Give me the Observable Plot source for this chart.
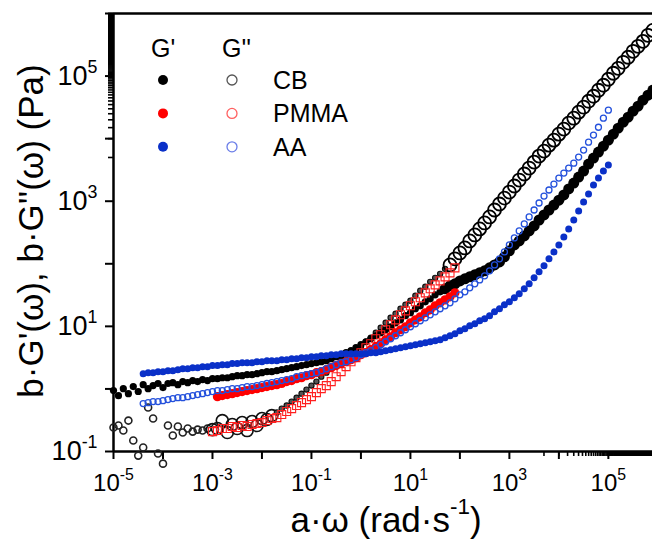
<!DOCTYPE html>
<html><head><meta charset="utf-8">
<script src="https://cdn.jsdelivr.net/npm/d3@7"></script>
<script src="https://cdn.jsdelivr.net/npm/@observablehq/plot@0.6"></script>
<style>
html,body{margin:0;padding:0;background:#fff;overflow:hidden;}
#wrap{position:relative;width:652px;height:545px;}
</style></head><body><div id="wrap"></div>
<script>
// shared angular-frequency grid (rad/s)
const omega = [
1e-5,1.26e-5,1.58e-5,2e-5,2.51e-5,3.16e-5,3.98e-5,5.01e-5,6.31e-5,7.94e-5,
1e-4,1.26e-4,1.58e-4,2e-4,2.51e-4,3.16e-4,3.98e-4,5.01e-4,6.31e-4,7.94e-4,
1e-3,1.26e-3,1.58e-3,2e-3,2.51e-3,3.16e-3,3.98e-3,5.01e-3,6.31e-3,7.94e-3,
0.01,0.0126,0.0158,0.02,0.0251,0.0316,0.0398,0.0501,0.0631,0.0794,
0.1,0.126,0.158,0.2,0.251,0.316,0.398,0.501,0.631,0.794,
1,1.26,1.58,2,2.51,3.16,3.98,5.01,6.31,7.94,
10,12.6,15.8,20,25.1,31.6,39.8,50.1,63.1,79.4,
100,126,158,200,251,316,398,501,631,794,
1000,1260,1580,2000,2510,3160,3980,5010,6310,7940,
1e4,12600,15800,20000,25100,31600,39800,50100,63100,79400,
1e5,126000,158000,200000,251000,316000,398000,501000,631000,794000
];

// CB, G' (Pa), from omega[0]
const cbStorage = [
0.94,0.78,1.01,0.84,1.09,0.91,1.17,1.01,1.13,1.22,
1.05,1.22,1.26,1.17,1.31,1.26,1.36,1.31,1.41,1.36,
1.46,1.46,1.51,1.51,1.57,1.63,1.63,1.69,1.69,1.75,
1.82,1.89,1.89,1.96,2.03,2.11,2.19,2.27,2.36,2.44,
2.54,2.62,2.72,2.82,3.04,3.27,3.52,3.79,4.08,4.56,
5.09,5.68,6.34,7.08,7.91,8.83,9.86,11.4,12.7,14.8,
16.5,19.1,21.3,24.7,27.5,31.9,35.6,39.8,44.5,47.8,
53.3,57.4,61.8,66.5,71.6,77.1,86.1,95.9,107,129,
161,200,232,279,335,402,501,603,724,869,
1040,1260,1570,1950,2430,3030,3920,4890,6090,7590,
9460,11800,14700,18300,22000,27500,33000,41100,49400,59400
];
// CB, G'' (Pa), from omega[0]
const cbLoss = [
0.242,0.260,0.216,0.312,0.150,0.086,0.116,0.504,0.336,0.093,
0.064,0.260,0.180,0.251,0.201,0.233,0.208,0.224,0.216,0.233,
0.224,0.233,0.312,0.201,0.270,0.233,0.290,0.216,0.301,0.260,
0.336,0.324,0.375,0.419,0.485,0.542,0.627,0.726,0.841,0.975,
1.13,1.31,1.57,1.82,2.11,2.44,2.83,3.16,3.66,4.24,
4.73,5.68,6.58,7.91,9.51,11.4,13.7,15.9,19.1,22.1,
25.6,30.8,37.0,42.9,51.4,59.6,69.0,83.0,95.9,120,
149,179,232,289,361,449,560,724,902,1120,
1400,1750,2180,2720,3390,4220,5260,6320,7870,9460,
11800,14200,17700,21200,26500,31800,39600,47600,59400,71300,
88900,111000,133000,166000,200000,249000,299000,359000,448000,537000
];
// PMMA, G' (Pa), from omega[21]
const pmmaStorage = [
0.753,0.782,0.811,0.841,0.873,0.906,0.940,0.975,1.01,1.05,
1.09,1.13,1.17,1.22,1.31,1.36,1.46,1.51,1.63,1.69,
1.82,1.89,2.03,2.19,2.36,2.54,2.72,2.93,3.16,3.52,
3.79,4.24,4.73,5.27,6.11,6.82,7.91,8.83,9.86,11.4,
12.7,14.2,16.5,18.4,21.3,23.8,26.5,29.6,34.3
];
// PMMA, G'' (Pa), from omega[20]
const pmmaLoss = [
0.208,0.216,0.233,0.233,0.251,0.242,0.260,0.251,0.270,0.280,
0.290,0.312,0.336,0.348,0.389,0.435,0.485,0.542,0.604,0.675,
0.753,0.873,1.01,1.13,1.31,1.57,1.89,2.27,2.72,3.16,
3.79,4.56,5.27,6.34,7.35,8.83,10.6,12.7,15.3,17.7,
21.3,24.7,28.6,34.3,39.8,46.0,53.3,61.8,71.6,86.1
];
// AA, G' (Pa), from omega[6]
const aaStorage = [
1.75,1.82,1.82,1.89,1.89,1.96,1.96,2.03,2.11,2.11,
2.19,2.19,2.27,2.27,2.36,2.36,2.44,2.44,2.54,2.54,
2.63,2.63,2.63,2.72,2.72,2.83,2.83,2.83,2.93,2.93,
3.04,3.04,3.16,3.16,3.27,3.27,3.40,3.40,3.52,3.52,
3.66,3.66,3.66,3.66,3.66,3.66,3.79,3.79,3.94,4.08,
4.24,4.40,4.56,4.73,4.91,5.09,5.27,5.47,5.68,5.89,
6.11,6.58,7.08,7.62,8.51,9.16,10.2,11.0,12.3,13.2,
14.8,17.1,19.1,22.1,24.7,28.6,33.1,39.8,47.8,59.6,
74.3,92.7,120,155,200,269,361,501,698,971,
1300,1810,2340,3030,3780
];
// AA, G'' (Pa), from omega[6]
const aaLoss = [
0.583,0.604,0.627,0.627,0.650,0.675,0.700,0.726,0.726,0.753,
0.782,0.811,0.841,0.873,0.906,0.940,0.940,0.975,1.01,1.01,
1.05,1.09,1.09,1.13,1.17,1.22,1.26,1.31,1.36,1.41,
1.46,1.57,1.63,1.69,1.75,1.82,1.96,2.11,2.27,2.44,
2.63,2.72,2.93,3.16,3.52,3.79,4.08,4.56,5.09,5.68,
6.34,7.08,7.91,8.83,9.86,11.0,12.3,13.7,15.3,17.1,
19.1,21.3,23.8,27.5,31.9,35.6,41.3,47.8,55.3,64.1,
77.1,95.9,120,155,200,259,335,433,560,724,
936,1210,1510,1880,2340,2820,3390,4060,5070,6560,
8790,11400,15200,21200,28500
];

const materials = ["CB", "PMMA", "AA"];
const xMajor = [1e-5,1e-4,1e-3,1e-2,1e-1,1,10,100,1e3,1e4,1e5];
const yMajor = [0.1,1,10,100,1e3,1e4,1e5,1e6];

const series = [
  {name: "CB", mod: "G'", start: 0, values: cbStorage},
  {name: "CB", mod: "G''", start: 0, values: cbLoss},
  {name: "PMMA", mod: "G'", start: 21, values: pmmaStorage},
  {name: "PMMA", mod: "G''", start: 20, values: pmmaLoss},
  {name: "AA", mod: "G'", start: 6, values: aaStorage},
  {name: "AA", mod: "G''", start: 6, values: aaLoss}
];
const rows = series.flatMap(s => s.values.map((G, j) => ({omega: omega[s.start + j], G, name: s.name, mod: s.mod})));
const is = (n, m) => d => d.name === n && d.mod === m;

const expFmt = d => {
  const e = Math.round(Math.log10(d));
  return Math.abs(e) % 2 === 1 ? "10^" + e : "";
};

const FONT = '"Liberation Sans", Arial, sans-serif';

const chart = Plot.plot({
  width: 652, height: 545,
  marginLeft: 113, marginRight: 0, marginTop: 13, marginBottom: 94,
  style: {fontFamily: FONT, fontSize: "24px", color: "#000", background: "#fff", overflow: "visible"},
  x: {type: "log", domain: [1e-5, 7.8e5]},
  y: {type: "log", domain: [0.1, 1e6]},
  marks: [
    Plot.axisX({ticks: 200, tickSize: 5, strokeWidth: 1.6, tickFormat: () => "", label: null}),
    Plot.axisX({ticks: xMajor, tickSize: 8, strokeWidth: 2, tickPadding: 14, tickFormat: expFmt, fontSize: 24, label: null}),
    Plot.axisY({ticks: 200, tickSize: 5, strokeWidth: 1.6, tickFormat: () => "", label: null}),
    Plot.axisY({ticks: yMajor, tickSize: 8, strokeWidth: 2, tickPadding: 8, tickFormat: expFmt, fontSize: 27, label: null}),
    Plot.ruleX([1e-5], {strokeWidth: 2.5}),
    Plot.ruleY([0.1, 1e6], {strokeWidth: 2.5}),
    // CB G''
    Plot.dot(rows, {filter: d => is("CB","G''")(d) && d.omega < 1e-3, x: "omega", y: "G", r: 3.5, stroke: "#222", strokeWidth: 1.6, fill: "none"}),
    Plot.dot(rows, {filter: d => is("CB","G''")(d) && d.omega >= 1e-3 && d.omega < 0.02, x: "omega", y: "G", r: 6, stroke: "#111", strokeWidth: 1.6, fill: "none"}),
    Plot.dot(rows, {filter: d => is("CB","G''")(d) && d.omega >= 0.02 && d.omega < 60, x: "omega", y: "G", r: 2.6, stroke: "#111", strokeWidth: 1.2, fill: "#555"}),
    Plot.dot(rows, {filter: d => is("CB","G''")(d) && d.omega >= 60, x: "omega", y: "G", r: 6.5, stroke: "#000", strokeWidth: 1.8, fill: "none"}),
    // CB G'
    Plot.dot(rows, {filter: d => is("CB","G'")(d) && d.omega < 50, x: "omega", y: "G", r: 3.6, fill: "#000"}),
    Plot.dot(rows, {filter: d => is("CB","G'")(d) && d.omega >= 50, x: "omega", y: "G", r: 5.5, fill: "#000"}),
    // PMMA
    Plot.dot(rows, {filter: is("PMMA","G''"), x: "omega", y: "G", symbol: "square", r: 4.5, stroke: "#ff2020", strokeWidth: 1.1, fill: "none"}),
    Plot.dot(rows, {filter: is("PMMA","G'"), x: "omega", y: "G", r: 4.6, fill: "#ff0000"}),
    // AA
    Plot.dot(rows, {filter: is("AA","G''"), x: "omega", y: "G", r: 3, stroke: "#2350dc", strokeWidth: 1.3, fill: "none"}),
    Plot.dot(rows, {filter: is("AA","G'"), x: "omega", y: "G", r: 3.5, fill: "#0a30c8"})
  ]
});

document.getElementById("wrap").appendChild(chart);
const svg = d3.select(chart);

// superscript exponents in tick labels
const relabel = (sel, size) => sel.each(function () {
  const t = this.textContent;
  const s = d3.select(this).attr("font-size", size).attr("font-family", FONT);
  if (!t.includes("^")) return;
  const [b, e] = t.split("^");
  s.text(null);
  s.append("tspan").text(b);
  s.append("tspan").attr("font-size", "0.66em").attr("dy", "-0.68em").text(e);
});
relabel(svg.selectAll('g[aria-label="x-axis tick label"] text'), 24);
relabel(svg.selectAll('g[aria-label="y-axis tick label"] text'), 27);

// axis titles
const xt = svg.append("text").attr("x", 386).attr("y", 532).attr("text-anchor", "middle")
  .attr("font-family", FONT).attr("font-size", 35).attr("fill", "#000");
xt.append("tspan").text("a·ω (rad·s");
xt.append("tspan").attr("font-size", "0.64em").attr("dy", "-0.8em").text("-1");
xt.append("tspan").attr("dy", "0.51em").text(")");

svg.append("text").attr("transform", "translate(43,231) rotate(-90)").attr("text-anchor", "middle")
  .attr("font-family", FONT).attr("font-size", 35).attr("fill", "#000")
  .text("b·G'(ω), b·G''(ω) (Pa)");

// legend
const lg = svg.append("g").attr("font-family", FONT).attr("font-size", 25).attr("fill", "#000").attr("text-anchor", "start");
lg.append("text").attr("x", 151).attr("y", 57).text("G'");
lg.append("text").attr("x", 222).attr("y", 57).text("G''");
const fillC = {CB: "#000", PMMA: "#ff0000", AA: "#0a30c8"};
const openC = {CB: "#555", PMMA: "#ff6060", AA: "#6a7de8"};
materials.forEach((m, i) => {
  const cy = 80 + i * 33.4;
  lg.append("circle").attr("cx", 163).attr("cy", cy).attr("r", 5).attr("fill", fillC[m]);
  lg.append("circle").attr("cx", 232).attr("cy", cy).attr("r", 5).attr("fill", "none").attr("stroke", openC[m]).attr("stroke-width", 1.3);
  lg.append("text").attr("x", 273).attr("y", cy + 9).text(m);
});
</script></body></html>
